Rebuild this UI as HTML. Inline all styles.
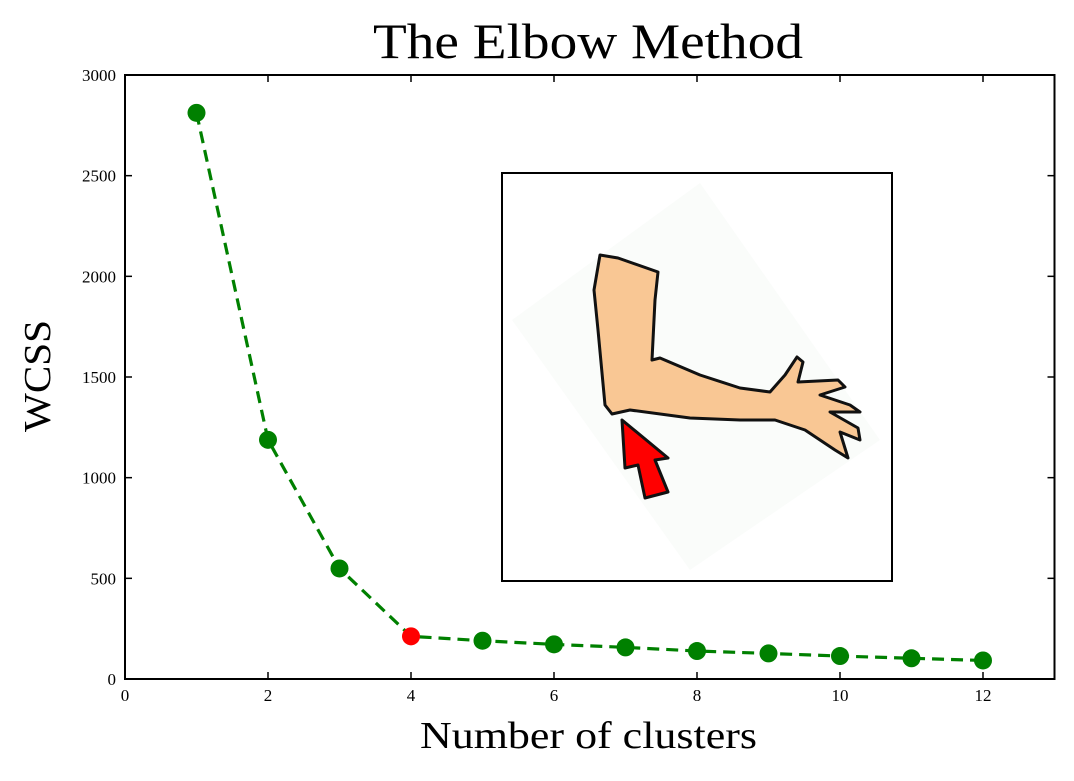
<!DOCTYPE html>
<html><head><meta charset="utf-8"><style>
html,body{margin:0;padding:0;background:#fff;}
svg text{font-family:"Liberation Serif",serif;fill:#000;}
</style></head><body>
<svg id="chart" width="1074" height="776" viewBox="0 0 1074 776" xmlns="http://www.w3.org/2000/svg">
<rect width="1074" height="776" fill="#fff"/>
<text x="373" y="58" font-size="50" textLength="430" lengthAdjust="spacingAndGlyphs">The Elbow Method</text>
<text x="420" y="748" font-size="38" textLength="337" lengthAdjust="spacingAndGlyphs">Number of clusters</text>
<text transform="translate(50,432) rotate(-90)" font-size="38" textLength="112" lengthAdjust="spacingAndGlyphs">WCSS</text>
<g id="inset">
<rect x="502" y="173" width="390" height="408" fill="#fff" stroke="#000" stroke-width="2"/>
<polygon points="700,183 880,440 690,570 512,320" fill="#fafcfa"/>
<polygon points="600,255 618,258 658,272 655,300 652,360 660,358 700,375 740,388 770,392 785,375 797,357 803,362 798,382 838,380 845,387 820,395 850,405 860,412 830,412 858,428 860,440 840,432 848,458 835,450 805,430 775,420 740,420 690,418 630,410 612,414 605,405 598,330 594,290" fill="#f9c794" stroke="#111" stroke-width="3" stroke-linejoin="round"/>
<polygon points="622,420 668,458 655,460 668,492 645,498 638,465 625,468" fill="#f00" stroke="#111" stroke-width="3" stroke-linejoin="round"/>
</g>
<g id="axes"></g>
<g id="series"></g>
</svg>
<script>
const clusters=[1,2,3,4,5,6,7,8,9,10,11,12];
const wcss=[2812,1188,549,212,190,172,157,139,127,114,103,92];
const highlightIndex=3;
const xTicks=[0,2,4,6,8,10,12];
const yTicks=[0,500,1000,1500,2000,2500,3000];
const NS='http://www.w3.org/2000/svg';
const L=125,R=1054.5,T=75,B=679,XMAX=13,YMAX=3000;
const xs=v=>L+(R-L)*v/XMAX;
const ys=v=>B-(B-T)*v/YMAX;
function mk(tag,attrs,parent){const e=document.createElementNS(NS,tag);for(const k in attrs)e.setAttribute(k,attrs[k]);parent.appendChild(e);return e;}
const ax=document.getElementById('axes');
const frame=mk('rect',{x:L,y:T,width:R-L,height:B-T,fill:'none',stroke:'#000','stroke-width':2},ax);


xTicks.forEach(t=>{
  const x=xs(t);
  const a=mk('line',{x1:x,x2:x,y1:B,y2:B-7,stroke:'#000','stroke-width':1.5},ax);
  
  
  const b=mk('line',{x1:x,x2:x,y1:T,y2:T+7,stroke:'#000','stroke-width':1.5},ax);
  
  
  const tx=mk('text',{x:x,y:B+22,'font-size':17,'text-anchor':'middle'},ax);
  tx.textContent=t;
  
  
});
yTicks.forEach(t=>{
  const y=ys(t);
  const a=mk('line',{x1:L,x2:L+7,y1:y,y2:y,stroke:'#000','stroke-width':1.5},ax);
  
  
  const b=mk('line',{x1:R,x2:R-7,y1:y,y2:y,stroke:'#000','stroke-width':1.5},ax);
  
  
  const tx=mk('text',{x:L-9,y:y+6,'font-size':17,'text-anchor':'end'},ax);
  tx.textContent=t;
  
  
});
const sg=document.getElementById('series');
const pts=clusters.map((c,i)=>xs(c)+','+ys(wcss[i])).join(' ');
const line=mk('polyline',{points:pts,fill:'none',stroke:'#008000','stroke-width':3.2,'stroke-dasharray':'12,7'},sg);


clusters.forEach((c,i)=>{
  const p=mk('circle',{cx:xs(c),cy:ys(wcss[i]),r:9,fill:i===highlightIndex?'#ff0000':'#008000'},sg);
  
  
});
</script>
</body></html>
